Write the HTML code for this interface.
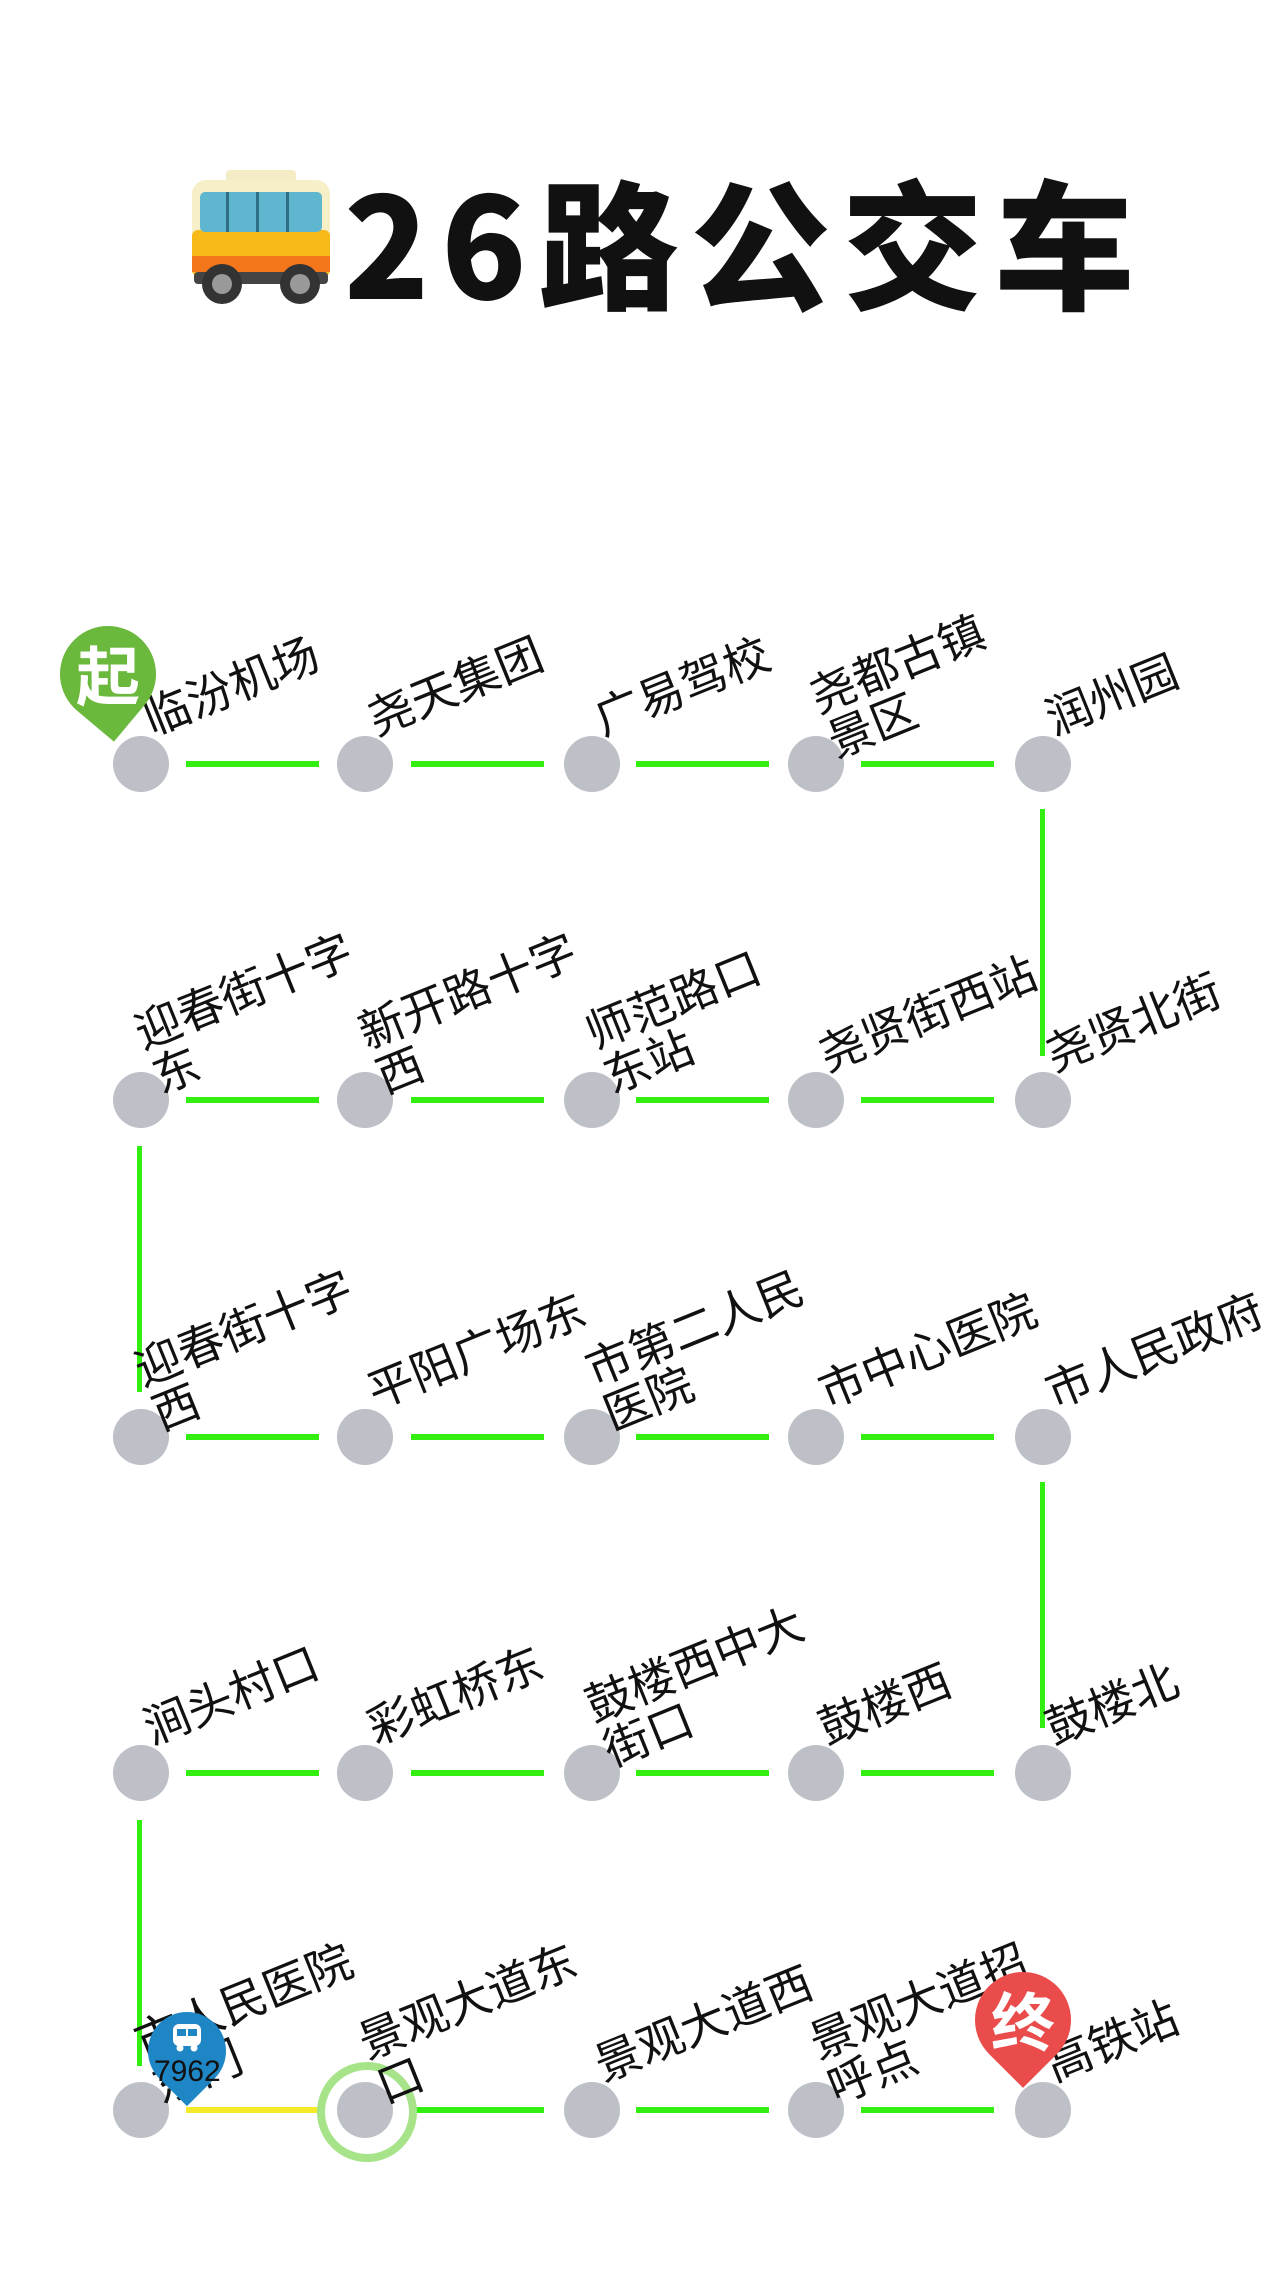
<!DOCTYPE html>
<html><head><meta charset="utf-8">
<style>
html,body{margin:0;padding:0;background:#fff;}
body{width:1280px;height:2275px;position:relative;overflow:hidden;font-family:"Liberation Sans","Noto Sans CJK SC",sans-serif;}
.st{position:absolute;width:56px;height:56px;border-radius:50%;background:#bec0c8;}
.h{position:absolute;height:6px;background:#33ee11;}
.v{position:absolute;width:5px;background:#33ee11;}
.lw{position:absolute;width:0;height:0;margin-top:11px;margin-left:-3px;}
.lb{position:absolute;left:0;top:0;transform-origin:0 0;transform:rotate(-22deg) translateY(-50%);font-size:46px;line-height:48px;color:#111;white-space:nowrap;font-family:"Liberation Sans","Noto Sans CJK SC",sans-serif;}
.pin{position:absolute;width:96px;height:96px;border-radius:50% 50% 0 50%;transform:rotate(45deg);}
.pt{position:absolute;color:#fff;font-weight:bold;text-align:center;font-family:"Noto Sans CJK SC",sans-serif;}
</style></head><body>

<!-- title -->
<svg style="position:absolute;left:186px;top:168px" width="150" height="140" viewBox="0 0 150 140">
 <rect x="40" y="2" width="70" height="14" rx="4" fill="#f3ecc4"/>
 <rect x="6" y="12" width="138" height="100" rx="14" fill="#f6efc8"/>
 <rect x="6" y="62" width="138" height="46" rx="6" fill="#f7b917"/>
 <rect x="6" y="88" width="138" height="16" fill="#f3761b"/>
 <rect x="14" y="24" width="122" height="40" rx="5" fill="#5fb6cf"/>
 <rect x="40" y="24" width="3" height="40" fill="#2f6f86"/><rect x="70" y="24" width="3" height="40" fill="#2f6f86"/><rect x="100" y="24" width="3" height="40" fill="#2f6f86"/>
 <rect x="8" y="104" width="134" height="12" rx="4" fill="#444"/>
 <circle cx="36" cy="116" r="20" fill="#333"/><circle cx="36" cy="116" r="10" fill="#999"/>
 <circle cx="114" cy="116" r="20" fill="#333"/><circle cx="114" cy="116" r="10" fill="#999"/>
</svg>
<div style="position:absolute;left:344px;top:164px;font-size:140px;line-height:150px;font-weight:900;color:#111;letter-spacing:12px;font-family:'Noto Sans CJK SC',sans-serif;white-space:nowrap;">26路公交车</div>

<!-- horizontal lines -->
<div class="h" style="left:186px;top:761px;width:133px"></div>
<div class="h" style="left:411px;top:761px;width:133px"></div>
<div class="h" style="left:636px;top:761px;width:133px"></div>
<div class="h" style="left:861px;top:761px;width:133px"></div>

<div class="h" style="left:186px;top:1097px;width:133px"></div>
<div class="h" style="left:411px;top:1097px;width:133px"></div>
<div class="h" style="left:636px;top:1097px;width:133px"></div>
<div class="h" style="left:861px;top:1097px;width:133px"></div>

<div class="h" style="left:186px;top:1434px;width:133px"></div>
<div class="h" style="left:411px;top:1434px;width:133px"></div>
<div class="h" style="left:636px;top:1434px;width:133px"></div>
<div class="h" style="left:861px;top:1434px;width:133px"></div>

<div class="h" style="left:186px;top:1770px;width:133px"></div>
<div class="h" style="left:411px;top:1770px;width:133px"></div>
<div class="h" style="left:636px;top:1770px;width:133px"></div>
<div class="h" style="left:861px;top:1770px;width:133px"></div>

<div class="h" style="left:186px;top:2107px;width:133px;background:#f5ea2a"></div>
<div class="h" style="left:411px;top:2107px;width:133px"></div>
<div class="h" style="left:636px;top:2107px;width:133px"></div>
<div class="h" style="left:861px;top:2107px;width:133px"></div>

<!-- vertical lines -->
<div class="v" style="left:1040px;top:809px;height:247px"></div>
<div class="v" style="left:137px;top:1146px;height:246px"></div>
<div class="v" style="left:1040px;top:1482px;height:246px"></div>
<div class="v" style="left:137px;top:1820px;height:246px"></div>

<!-- green ring -->
<div style="position:absolute;left:317px;top:2062px;width:84px;height:84px;border-radius:50%;border:8px solid #a6e389;"></div>

<!-- stations -->
<div class="st" style="left:113px;top:736px"></div><div class="st" style="left:337px;top:736px"></div><div class="st" style="left:564px;top:736px"></div><div class="st" style="left:788px;top:736px"></div><div class="st" style="left:1015px;top:736px"></div>
<div class="st" style="left:113px;top:1072px"></div><div class="st" style="left:337px;top:1072px"></div><div class="st" style="left:564px;top:1072px"></div><div class="st" style="left:788px;top:1072px"></div><div class="st" style="left:1015px;top:1072px"></div>
<div class="st" style="left:113px;top:1409px"></div><div class="st" style="left:337px;top:1409px"></div><div class="st" style="left:564px;top:1409px"></div><div class="st" style="left:788px;top:1409px"></div><div class="st" style="left:1015px;top:1409px"></div>
<div class="st" style="left:113px;top:1745px"></div><div class="st" style="left:337px;top:1745px"></div><div class="st" style="left:564px;top:1745px"></div><div class="st" style="left:788px;top:1745px"></div><div class="st" style="left:1015px;top:1745px"></div>
<div class="st" style="left:113px;top:2082px"></div><div class="st" style="left:337px;top:2082px"></div><div class="st" style="left:564px;top:2082px"></div><div class="st" style="left:788px;top:2082px"></div><div class="st" style="left:1015px;top:2082px"></div>

<!-- labels row1 (cy 764) -->
<div class="lw" style="left:149px;top:710px"><div class="lb">临汾机场</div></div>
<div class="lw" style="left:373px;top:710px"><div class="lb">尧天集团</div></div>
<div class="lw" style="left:600px;top:710px"><div class="lb">广易驾校</div></div>
<div class="lw" style="left:824px;top:710px"><div class="lb">尧都古镇<br>景区</div></div>
<div class="lw" style="left:1051px;top:710px"><div class="lb">润州园</div></div>
<!-- row2 (cy 1100) -->
<div class="lw" style="left:149px;top:1046px"><div class="lb">迎春街十字<br>东</div></div>
<div class="lw" style="left:373px;top:1046px"><div class="lb">新开路十字<br>西</div></div>
<div class="lw" style="left:600px;top:1046px"><div class="lb">师范路口<br>东站</div></div>
<div class="lw" style="left:824px;top:1046px"><div class="lb">尧贤街西站</div></div>
<div class="lw" style="left:1051px;top:1046px"><div class="lb">尧贤北街</div></div>
<!-- row3 (cy 1437) -->
<div class="lw" style="left:149px;top:1383px"><div class="lb">迎春街十字<br>西</div></div>
<div class="lw" style="left:373px;top:1383px"><div class="lb">平阳广场东</div></div>
<div class="lw" style="left:600px;top:1383px"><div class="lb">市第二人民<br>医院</div></div>
<div class="lw" style="left:824px;top:1383px"><div class="lb">市中心医院</div></div>
<div class="lw" style="left:1051px;top:1383px"><div class="lb">市人民政府</div></div>
<!-- row4 (cy 1773) -->
<div class="lw" style="left:149px;top:1719px"><div class="lb">涧头村口</div></div>
<div class="lw" style="left:373px;top:1719px"><div class="lb">彩虹桥东</div></div>
<div class="lw" style="left:600px;top:1719px"><div class="lb">鼓楼西中大<br>街口</div></div>
<div class="lw" style="left:824px;top:1719px"><div class="lb">鼓楼西</div></div>
<div class="lw" style="left:1051px;top:1719px"><div class="lb">鼓楼北</div></div>
<!-- row5 (cy 2110) -->
<div class="lw" style="left:149px;top:2056px"><div class="lb">市人民医院<br>东门</div></div>
<div class="lw" style="left:373px;top:2056px"><div class="lb">景观大道东<br>口</div></div>
<div class="lw" style="left:600px;top:2056px"><div class="lb">景观大道西</div></div>
<div class="lw" style="left:824px;top:2056px"><div class="lb">景观大道招<br>呼点</div></div>
<div class="lw" style="left:1051px;top:2056px"><div class="lb">高铁站</div></div>

<!-- start pin -->
<div class="pin" style="left:60px;top:626px;background:#6ab83c;transform:rotate(40deg);"></div>
<div class="pt" style="left:60px;top:634px;width:96px;font-size:64px;line-height:78px;">起</div>

<!-- end pin -->
<div class="pin" style="left:975px;top:1972px;background:#ea4b4b;"></div>
<div class="pt" style="left:975px;top:1980px;width:96px;font-size:64px;line-height:78px;">终</div>

<!-- bus pin -->
<div class="pin" style="left:148px;top:2012px;width:78px;height:78px;background:#1f86c6;"></div>
<svg style="position:absolute;left:169px;top:2022px" width="36" height="30" viewBox="0 0 36 30">
 <rect x="4" y="2" width="28" height="22" rx="6" fill="#fff"/>
 <rect x="8" y="7" width="9" height="7" fill="#1f86c6"/><rect x="19" y="7" width="9" height="7" fill="#1f86c6"/>
 <circle cx="11" cy="26" r="3.5" fill="#fff"/><circle cx="25" cy="26" r="3.5" fill="#fff"/>
</svg>
<div style="position:absolute;left:154px;top:2055px;font-size:30px;line-height:34px;color:#111;">7962</div>

</body></html>
